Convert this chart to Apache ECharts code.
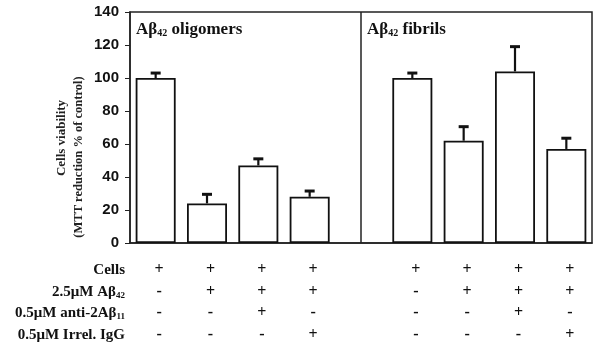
<!DOCTYPE html>
<html>
<head>
<meta charset="utf-8">
<script src="https://cdn.jsdelivr.net/npm/echarts@6/dist/echarts.min.js"></script>
<style>
  html, body { margin: 0; padding: 0; background: #fff; }
  #chart { width: 600px; height: 349px; }
</style>
</head>
<body>
<div id="chart"></div>
<script>
// 9 slots, the middle one is the empty gap between the two panels
const categories = ['o1', 'o2', 'o3', 'o4', 'gap', 'f1', 'f2', 'f3', 'f4'];
const viability = [100, 24, 47, 28, null, 100, 62, 104, 57];
const errors = [3, 5.5, 4, 3.5, null, 3, 8.5, 15, 6.5];

// +/- table under the plot
const rowNames = ['Cells', '2.5μM Aβ{s|42}', '0.5μM anti-2Aβ{s|11}', '0.5μM Irrel. IgG'];
const rowCells = ['+', '+', '+', '+', '', '+', '+', '+', '+'];
const rowAbeta = ['-', '+', '+', '+', '', '-', '+', '+', '+'];
const rowAnti = ['-', '-', '+', '-', '', '-', '-', '+', '-'];
const rowIgg = ['-', '-', '-', '+', '', '-', '-', '-', '+'];
const rows = [rowCells, rowAbeta, rowAnti, rowIgg];

const serif = "'Liberation Serif', 'Times New Roman', serif";
const sans = "'Liberation Sans', Arial, sans-serif";

let myChart = echarts.init(document.getElementById('chart'));

const xAxes = [{
    type: 'category',
    data: categories,
    axisLine: { lineStyle: { color: '#222', width: 1.5 } },
    axisTick: { show: false },
    axisLabel: { show: false }
}];
const rowOffsets = [27, 49, 70, 92];
rows.forEach(function (row, i) {
    xAxes.push({
        type: 'category',
        data: categories,
        position: 'bottom',
        offset: rowOffsets[i],
        axisLine: { show: false },
        axisTick: { show: false },
        axisLabel: {
            margin: 0,
            verticalAlign: 'middle',
            fontFamily: serif,
            fontWeight: 'bold',
            fontSize: 16,
            color: '#111',
            padding: [0, 0, 0, 7],
            formatter: function (v, idx) { return row[idx]; }
        },
        name: rowNames[i],
        nameLocation: 'start',
        nameGap: 5,
        nameTextStyle: {
            fontFamily: serif,
            fontWeight: 'bold',
            fontSize: 15,
            color: '#111',
            verticalAlign: 'middle',
            rich: {
                s: { fontFamily: serif, fontWeight: 'bold', fontSize: 9, color: '#111', padding: [7, 0, 0, 0] }
            }
        }
    });
});

const option = {
    animation: false,
    grid: {
        left: 130, right: 8, top: 12, bottom: 106,
        show: true, borderColor: '#222', borderWidth: 1.5
    },
    xAxis: xAxes,
    yAxis: {
        type: 'value',
        min: 0, max: 140, interval: 20,
        splitLine: { show: false },
        axisLine: { show: true, lineStyle: { color: '#222', width: 1.5 } },
        axisTick: { show: true, inside: false, length: 5, lineStyle: { color: '#222' } },
        axisLabel: { fontFamily: sans, fontWeight: 'bold', fontSize: 15, color: '#111', margin: 11 }
    },
    graphic: [
        {
            type: 'text', rotation: Math.PI / 2,
            style: { text: 'Cells viability', font: 'bold 13px ' + serif, fill: '#222', align: 'center', verticalAlign: 'middle', x: 0, y: 0 },
            position: [62, 138]
        },
        {
            type: 'text', rotation: Math.PI / 2,
            style: { text: '(MTT reduction % of control)', font: 'bold 12.5px ' + serif, fill: '#222', align: 'center', verticalAlign: 'middle', x: 0, y: 0 },
            position: [79, 157]
        },
        {
            type: 'text', left: 136, top: 21,
            style: {
                text: 'Aβ{s|42} oligomers',
                font: 'bold 17px ' + serif, fill: '#111',
                rich: { s: { font: 'bold 10px ' + serif, fill: '#111', padding: [7, 0, 0, 0] } }
            }
        },
        {
            type: 'text', left: 367, top: 21,
            style: {
                text: 'Aβ{s|42} fibrils',
                font: 'bold 17px ' + serif, fill: '#111',
                rich: { s: { font: 'bold 10px ' + serif, fill: '#111', padding: [7, 0, 0, 0] } }
            }
        }
    ],
    series: [
        {
            type: 'bar',
            data: viability,
            barWidth: 40,
            itemStyle: { color: '#fff', borderColor: '#111', borderWidth: 1.8 },
            markLine: {
                symbol: 'none',
                silent: true,
                label: { show: false },
                lineStyle: { color: '#222', width: 1.5, type: 'solid' },
                data: [{ xAxis: 'gap' }]
            }
        },
        {
            type: 'custom',
            data: viability.map(function (v, i) { return v == null ? null : [i, v, errors[i]]; }),
            renderItem: function (params, api) {
                const i = api.value(0);
                const v = api.value(1);
                const e = api.value(2);
                const base = api.coord([i, v]);
                const top = api.coord([i, v + e]);
                return {
                    type: 'group',
                    children: [
                        { type: 'line', shape: { x1: base[0], y1: base[1], x2: top[0], y2: top[1] }, style: { stroke: '#111', lineWidth: 2.2 } },
                        { type: 'line', shape: { x1: top[0] - 5, y1: top[1], x2: top[0] + 5, y2: top[1] }, style: { stroke: '#111', lineWidth: 3 } }
                    ]
                };
            },
            z: 3
        }
    ]
};
myChart.setOption(option);
</script>
</body>
</html>
